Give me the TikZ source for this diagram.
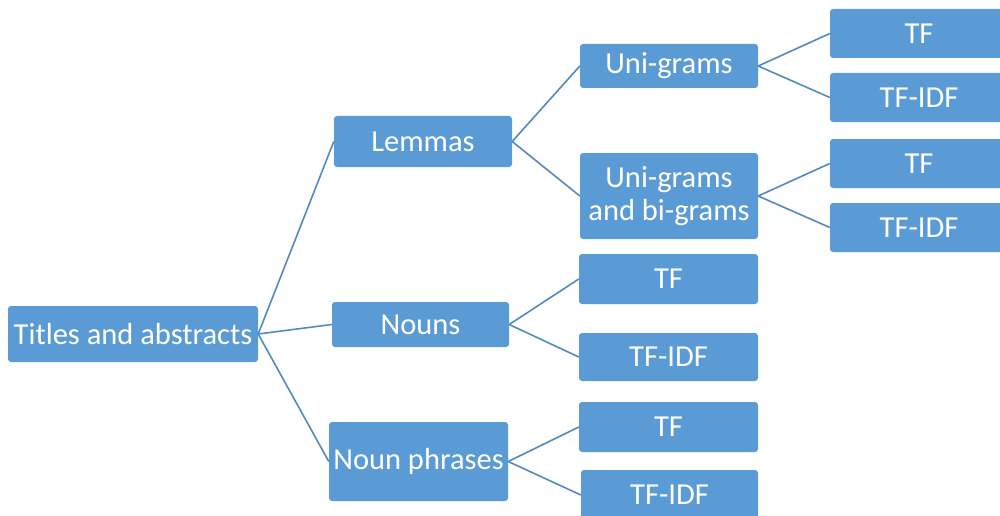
\documentclass[tikz,border=0pt]{standalone}
\usepackage{fontspec}
\setmainfont{Carlito}
\definecolor{boxblue}{HTML}{5B9BD5}
\definecolor{lineblue}{HTML}{5189C4}
\begin{document}
\begin{tikzpicture}[x=1pt,y=-1pt,
  box/.style={draw=none, fill=boxblue, rounded corners=3pt, text=white, inner sep=0pt,
    align=center, font=\fontsize{30.5}{33}\selectfont},
  link/.style={draw=lineblue, line width=1.6pt}]
\useasboundingbox (0,0) rectangle (1000,516);
\clip (0,0) rectangle (1000,516);
\node[box, minimum width=250pt, minimum height=56pt] (ta) at (133,334) {Titles and abstracts};
\node[box, minimum width=178pt, minimum height=51pt] (lem) at (423,141.5) {Lemmas};
\node[box, minimum width=177pt, minimum height=45pt] (nou) at (420.5,324.5) {Nouns};
\node[box, minimum width=179pt, minimum height=79pt] (np) at (418.5,461.5) {Noun phrases};
\node[box, minimum width=178pt, minimum height=44pt] (ug) at (669,66) {Uni-grams};
\node[box, minimum width=178pt, minimum height=86pt] (ub) at (669,196) {Uni-grams\\and bi-grams};
\node[box, minimum width=178pt, minimum height=49pt] (ugtf) at (919,33.5) {TF};
\node[box, minimum width=178pt, minimum height=49pt] (ugtfidf) at (919,97.5) {TF-IDF};
\node[box, minimum width=178pt, minimum height=49pt] (ubtf) at (919,163.5) {TF};
\node[box, minimum width=178pt, minimum height=49pt] (ubtfidf) at (919,227.5) {TF-IDF};
\node[box, minimum width=179pt, minimum height=50pt] (ntf) at (668.5,279) {TF};
\node[box, minimum width=179pt, minimum height=48pt] (ntfidf) at (668.5,357) {TF-IDF};
\node[box, minimum width=179pt, minimum height=50pt] (nptf) at (668.5,427) {TF};
\node[box, minimum width=177pt, minimum height=50pt] (nptfidf) at (669.5,495) {TF-IDF};
\draw[link] (ta.east) -- (lem.west);
\draw[link] (ta.east) -- (nou.west);
\draw[link] (ta.east) -- (np.west);
\draw[link] (lem.east) -- (ug.west);
\draw[link] (lem.east) -- (ub.west);
\draw[link] (ug.east) -- (ugtf.west);
\draw[link] (ug.east) -- (ugtfidf.west);
\draw[link] (ub.east) -- (ubtf.west);
\draw[link] (ub.east) -- (ubtfidf.west);
\draw[link] (nou.east) -- (ntf.west);
\draw[link] (nou.east) -- (ntfidf.west);
\draw[link] (np.east) -- (nptf.west);
\draw[link] (np.east) -- (nptfidf.west);
\end{tikzpicture}
\end{document}
